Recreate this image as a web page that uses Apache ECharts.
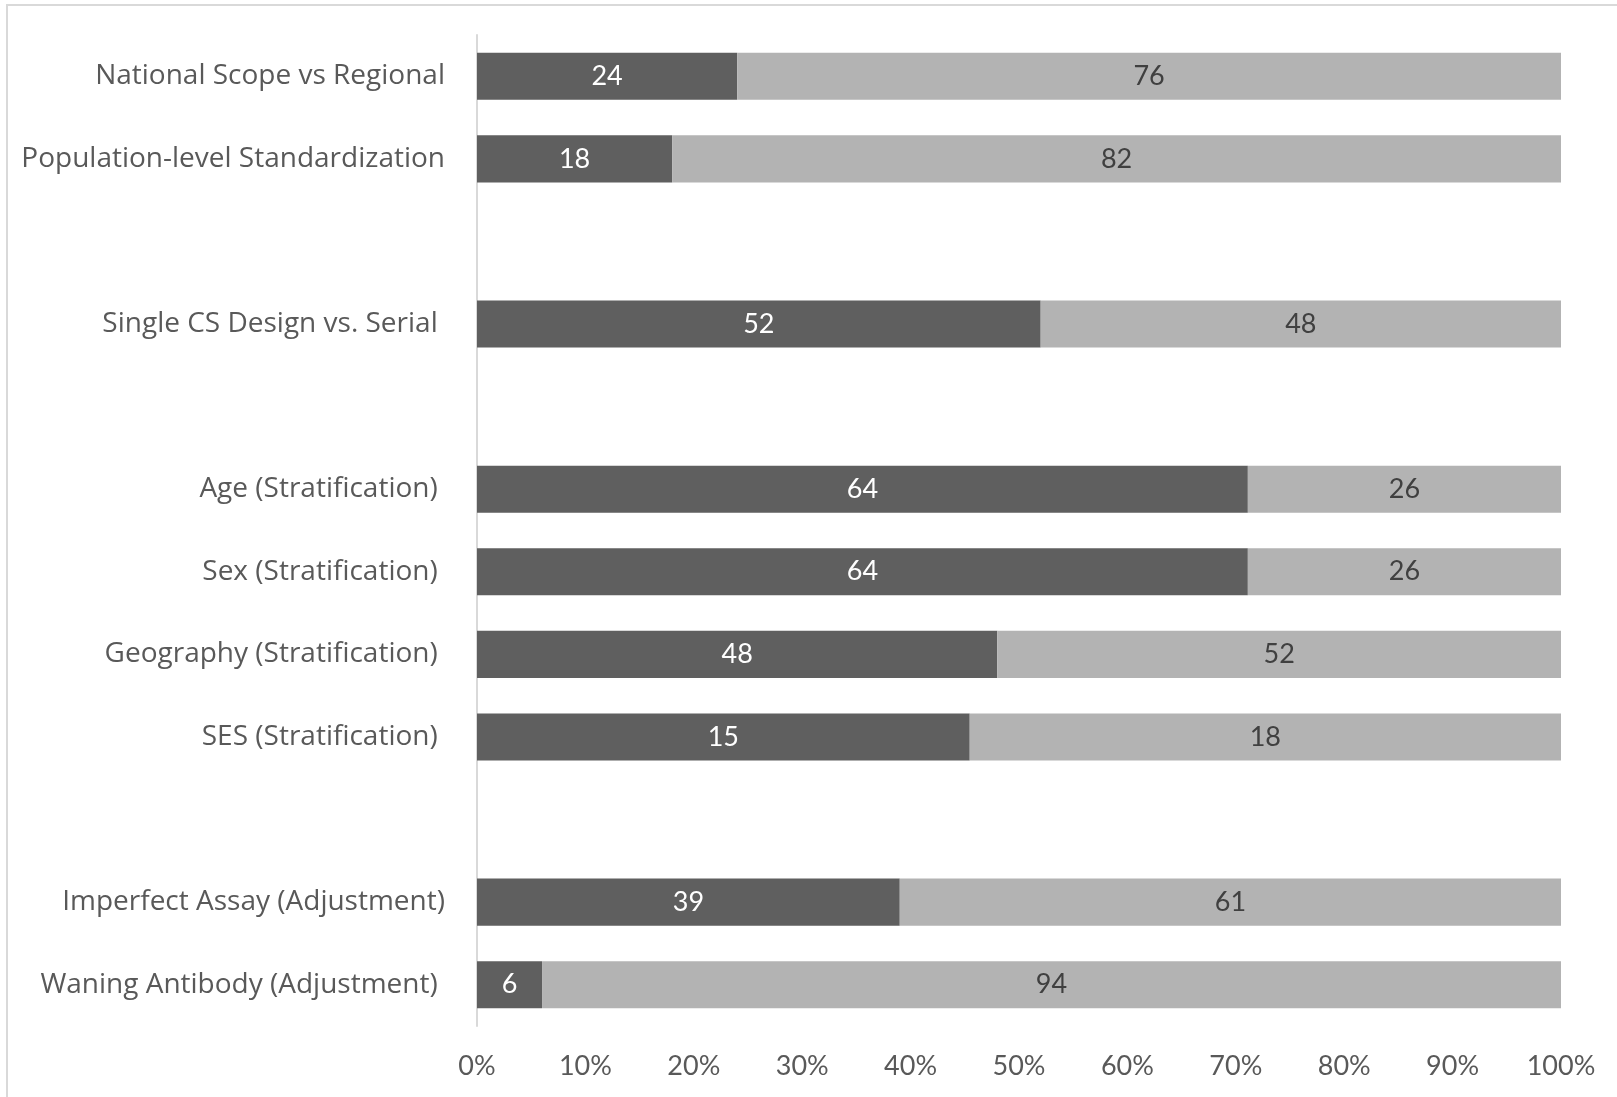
<!DOCTYPE html>
<html><head><meta charset="utf-8">
<script src="https://cdn.jsdelivr.net/npm/echarts@6/dist/echarts.min.js"></script>
<style>html,body{margin:0;padding:0;background:#fff}#c{width:1617px;height:1097px}</style>
</head><body><div id="c"></div>
<script>
const categories = [
  'National Scope vs Regional',
  'Population-level Standardization',
  '',
  'Single CS Design vs. Serial ',
  '',
  'Age (Stratification) ',
  'Sex (Stratification) ',
  'Geography (Stratification) ',
  'SES (Stratification) ',
  '',
  'Imperfect Assay (Adjustment)',
  'Waning Antibody (Adjustment) '
];
const darkValues  = [24, 18, null, 52, null, 64, 64, 48, 15, null, 39, 6];
const lightValues = [76, 82, null, 48, null, 26, 26, 52, 18, null, 61, 94];
const xTicks = [0,10,20,30,40,50,60,70,80,90,100];

const cats = categories.slice().reverse();
const dk = darkValues.slice().reverse();
const lt = lightValues.slice().reverse();
function pct(a, b) { return a == null ? null : a / (a + b) * 100; }
const dkData = dk.map((v, i) => ({ value: pct(v, lt[i]), raw: v }));
const ltData = lt.map((v, i) => ({ value: pct(v, dk[i]), raw: v }));

const FONT = 'Lato';
const CFONT = 'Open Sans';
const chart = echarts.init(document.getElementById('c'));
chart.setOption({
  animation: false,
  textStyle: { fontFamily: FONT },
  graphic: [{ type: 'rect', shape: { x: 7, y: 5, width: 1800, height: 1300 }, style: { fill: 'none', stroke: '#d9d9d9', lineWidth: 2 }, silent: true, z: -1 }],
  grid: { left: 477, right: 56, top: 35, bottom: 71 },
  xAxis: {
    type: 'value', min: xTicks[0], max: xTicks[xTicks.length - 1], interval: 10,
    axisLine: { show: false }, axisTick: { show: false }, splitLine: { show: false },
    axisLabel: { formatter: '{value}%', color: '#595959', fontSize: 27, fontFamily: FONT, margin: 27 }
  },
  yAxis: {
    type: 'category', data: cats,
    axisLine: { show: true, lineStyle: { color: '#d9d9d9', width: 2 } },
    axisTick: { show: false },
    axisLabel: { color: '#595959', fontSize: 28, fontFamily: CFONT, margin: 32 }
  },
  series: [
    { type: 'bar', stack: 's', data: dkData, barCategoryGap: '43%',
      itemStyle: { color: '#5f5f5f' },
      label: { show: true, position: 'inside', color: '#ffffff', fontSize: 27, fontFamily: FONT,
        formatter: p => p.data.raw == null ? '' : String(p.data.raw) } },
    { type: 'bar', stack: 's', data: ltData, barCategoryGap: '43%',
      itemStyle: { color: '#b3b3b3' },
      label: { show: true, position: 'inside', color: '#404040', fontSize: 27, fontFamily: FONT,
        formatter: p => p.data.raw == null ? '' : String(p.data.raw) } }
  ]
});
</script></body></html>
